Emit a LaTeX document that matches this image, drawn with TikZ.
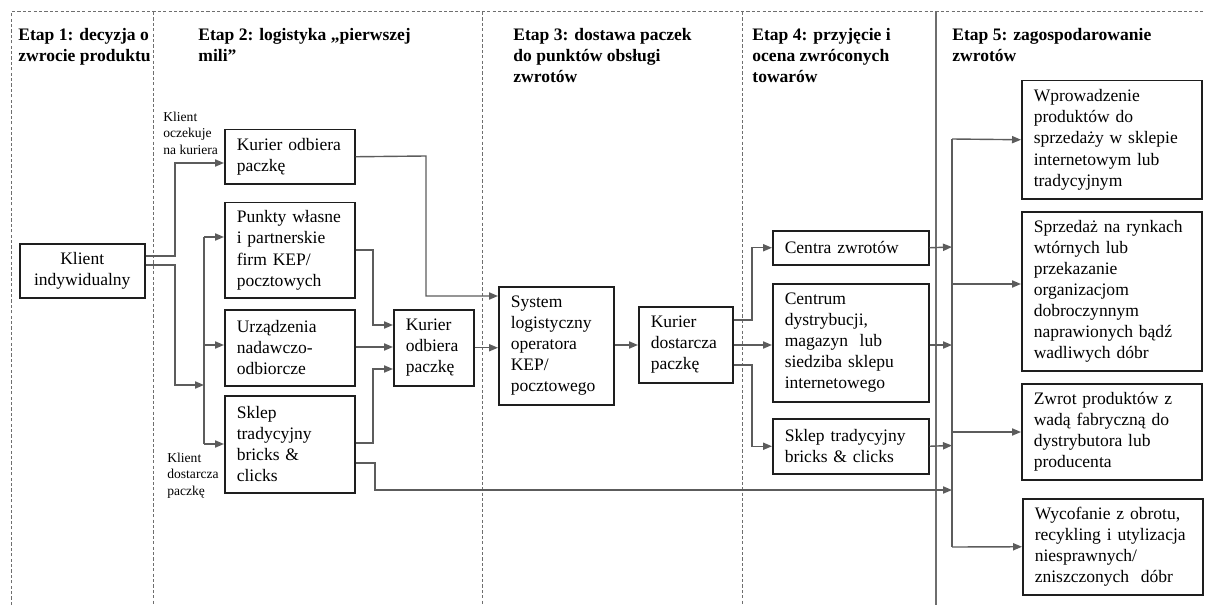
\documentclass[tikz,border=0pt]{standalone}
\usepackage{fontspec}
\setmainfont{Liberation Serif}
\usetikzlibrary{positioning, arrows.meta, calc}
\definecolor{linegray}{HTML}{5C5C5C}
\definecolor{framegray}{HTML}{1E1E1E}
\definecolor{sepgray}{HTML}{6E6E6E}
\newcommand{\boxfont}{\fontsize{8.8}{10.6}\selectfont}
\newcommand{\stagefont}{\fontsize{8.8}{10.4}\selectfont\bfseries}
\newcommand{\notefont}{\fontsize{6.8}{8.1}\selectfont}

\begin{document}
\begin{tikzpicture}[x=0.5bp, y=-0.5bp,
    every node/.style={font=\boxfont},
    box/.style={draw=framegray, line width=0.75bp, anchor=north west,
      align=left, inner xsep=6bp, inner ysep=1bp},
    stage/.style={font=\stagefont, anchor=north west, align=left, inner sep=0pt},
    note/.style={font=\notefont, anchor=north west, align=left, inner sep=0pt},
    arrow/.style={-{Triangle[length=4.5bp, width=3.6bp]}, linegray, line width=0.7bp},
    bus/.style={linegray, line width=0.7bp},
    divider/.style={sepgray, line width=0.5bp, dash pattern=on 1.6bp off 1.1bp}
]
  \useasboundingbox (0,0) rectangle (1209,605);

  % stage separators
  \draw[divider] (11,605) -- (11,12) -- (1205,12);
  \draw[divider] (153,12) -- (153,605);
  \draw[divider] (482,12) -- (482,605);
  \draw[divider] (742,12) -- (742,605);
  \draw[sepgray, line width=0.6bp] (936,12) -- (936,605);

  % stage titles
  \node[stage] (etap1) at (18,28) {Etap 1: decyzja o\\zwrocie produktu};
  \node[stage] (etap2) at (198,28) {Etap 2: logistyka „pierwszej\\mili”};
  \node[stage] (etap3) at (513,28) {Etap 3: dostawa paczek\\do punktów obsługi\\zwrotów};
  \node[stage] (etap4) at (752,28) {Etap 4: przyjęcie i\\ocena zwróconych\\towarów};
  \node[stage] (etap5) at (952,28) {Etap 5: zagospodarowanie\\zwrotów};

  % stage 1 and 2
  \node[box, align=center, minimum width=62.5bp, minimum height=27bp, text width=50.5bp] (klient) at (19,243) {Klient\\indywidualny};
  \node[box, minimum width=65bp, minimum height=27bp, text width=53bp] (kurierA) at (224,129) {Kurier odbiera\\paczkę};
  \node[box, minimum width=65bp, minimum height=47.5bp, text width=53bp] (punkty) at (224,202) {Punkty własne\\i partnerskie\\firm KEP/\\pocztowych};
  \node[box, minimum width=65bp, minimum height=38bp, text width=53bp] (urzadz) at (224,309) {Urządzenia\\nadawczo-\\odbiorcze};
  \node[box, minimum width=65bp, minimum height=48.5bp, text width=53bp] (sklepA) at (224,395) {Sklep\\tradycyjny\\bricks \&\\clicks};
  \node[box, minimum width=40bp, minimum height=38bp, text width=28bp] (kurierB) at (393,309) {Kurier\\odbiera\\paczkę};

  \node[note] (oczekuje) at (163,112) {Klient\\oczekuje\\na kuriera};
  \node[note] (dostarcza) at (167,453) {Klient\\dostarcza\\paczkę};

  % stage 3
  \node[box, minimum width=57.5bp, minimum height=59bp, text width=45.5bp] (system) at (498,286) {System\\logistyczny\\operatora\\KEP/\\pocztowego};
  \node[box, minimum width=47bp, minimum height=38bp, text width=35bp] (kurierC) at (638,306) {Kurier\\dostarcza\\paczkę};

  % stage 4
  \node[box, minimum width=78bp, minimum height=17bp, text width=66bp] (centra) at (772,230) {Centra zwrotów};
  \node[box, minimum width=78bp, minimum height=59bp, text width=66bp] (centrum) at (772,283) {Centrum\\dystrybucji,\\magazyn~ lub\\siedziba sklepu\\internetowego};
  \node[box, minimum width=78bp, minimum height=27.5bp, text width=66bp] (sklepB) at (772,418) {Sklep tradycyjny\\bricks \& clicks};

  % stage 5
  \node[box, minimum width=90bp, minimum height=59bp, text width=78bp] (wprow) at (1021,80) {Wprowadzenie\\produktów do\\sprzedaży w sklepie\\internetowym lub\\tradycyjnym};
  \node[box, minimum width=90bp, minimum height=79.5bp, text width=78bp] (rynki) at (1021,211) {Sprzedaż na rynkach\\wtórnych lub\\przekazanie\\organizacjom\\dobroczynnym\\naprawionych bądź\\wadliwych dóbr};
  \node[box, minimum width=90bp, minimum height=48bp, text width=78bp] (zwrot) at (1021,383) {Zwrot produktów z\\wadą fabryczną do\\dystrybutora lub\\producenta};
  \node[box, minimum width=90bp, minimum height=48bp, text width=78bp] (wycof) at (1022,498) {Wycofanie z obrotu,\\recykling i utylizacja\\niesprawnych/\\zniszczonych~ dóbr};

  % junction points
  \coordinate (busA) at (204,385);
  \coordinate (busB) at (952,490);

  % first mile
  \draw[arrow] (klient.east |- 0,256) -- (175,256) |- (kurierA.west |- 0,163);
  \draw[arrow] (klient.east |- 0,265) -- (175,265) |- (busA);
  \draw[bus] (204,237) -- (204,444);
  \draw[arrow] (204,237) -- (punkty.west |- 0,237);
  \draw[arrow] (204,345) -- (urzadz.west |- 0,345);
  \draw[arrow] (204,444) -- (sklepA.west |- 0,444);

  \draw[arrow] (punkty.east |- 0,250) -- (373,250) |- (kurierB.west |- 0,325);
  \draw[arrow] (urzadz.east |- 0,347) -- (kurierB.west |- 0,347);
  \draw[arrow] (sklepA.east |- 0,443) -- (373,443) |- (kurierB.west |- 0,369);
  \draw[arrow] (sklepA.east |- 0,463) -- (375,463) |- (busB);

  % delivery to return points
  \draw[arrow] (kurierA.east) -- (426,156) |- (system.west |- 0,296);
  \draw[arrow] (kurierB.east) -- (system.west |- kurierB.east);
  \draw[arrow] (system.east |- 0,345) -- (kurierC.west |- 0,345);

  \draw[arrow] (kurierC.east |- 0,320) -- (752,320) |- (centra.west);
  \draw[arrow] (kurierC.east |- 0,345) -- (centrum.west |- 0,345);
  \draw[arrow] (kurierC.east |- 0,365) -- (752,365) |- (sklepB.west);

  % return management
  \draw[bus] (952,139) -- (952,547);
  \draw[arrow] (centra.east) -- (952,247);
  \draw[arrow] (centrum.east |- 0,345) -- (952,345);
  \draw[arrow] (sklepB.east) -- (952,445.5);
  \draw[arrow] (952,139) -- (wprow.west);
  \draw[arrow] (952,284) -- (rynki.west |- 0,284);
  \draw[arrow] (952,432) -- (zwrot.west |- 0,432);
  \draw[arrow] (952,547) -- (wycof.west);
\end{tikzpicture}
\end{document}
